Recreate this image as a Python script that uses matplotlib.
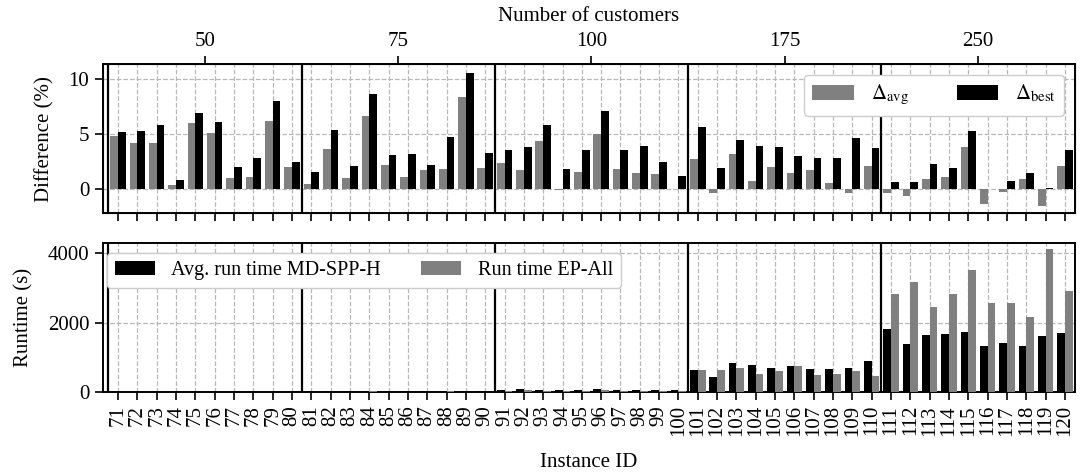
import matplotlib
matplotlib.use('Agg')
import matplotlib.pyplot as plt
import numpy as np

plt.rcParams['font.family'] = ['Liberation Serif', 'DejaVu Serif']
plt.rcParams['mathtext.fontset'] = 'stix'
plt.rcParams['font.size'] = 15

# Instance ids and group sizes
instances = list(range(71, 121))
group_labels = ['50', '75', '100', '175', '250']

# Difference (%) per instance
delta_avg = [4.85, 4.22, 4.22, 0.33, 6.02, 5.12, 1.05, 1.14, 6.20, 2.05,
             0.42, 3.67, 0.96, 6.66, 2.23, 1.08, 1.69, 1.87, 8.37, 1.96,
             2.41, 1.78, 4.40, -0.05, 1.51, 5.03, 1.87, 1.42, 1.33, -0.03,
             2.75, -0.36, 3.22, 0.75, 2.02, 1.48, 1.75, 0.57, -0.39, 2.14,
             -0.36, -0.63, 0.93, 1.11, 3.83, -1.39, -0.30, 0.93, -1.57, 2.11]
delta_best = [5.21, 5.30, 5.84, 0.78, 6.93, 6.11, 2.05, 2.86, 8.01, 2.50,
              1.51, 5.39, 2.14, 8.64, 3.13, 3.22, 2.23, 4.76, 10.63, 3.31,
              3.58, 3.86, 5.84, 1.87, 3.58, 7.11, 3.58, 3.95, 2.50, 1.23,
              5.66, 1.96, 4.49, 3.95, 3.86, 3.04, 2.86, 2.86, 4.67, 3.77,
              0.66, 0.66, 2.29, 1.96, 5.27, 0.03, 0.75, 1.48, 0.12, 3.59]

# Runtime (s) per instance
rt_mdspp = [3, 4, 3, 4, 3, 4, 3, 4, 3, 4,
            15, 18, 14, 16, 15, 17, 14, 16, 15, 17,
            65, 70, 60, 68, 62, 70, 64, 66, 60, 65,
            634, 430, 839, 781, 693, 751, 664, 664, 693, 898,
            1805, 1396, 1630, 1659, 1718, 1337, 1425, 1337, 1601, 1689]
rt_ep = [2, 2, 2, 2, 2, 2, 2, 2, 2, 2,
         10, 9, 10, 11, 10, 9, 10, 11, 10, 9,
         35, 40, 30, 38, 32, 40, 34, 36, 30, 35,
         634, 634, 693, 517, 605, 751, 488, 517, 605, 459,
         2830, 3182, 2450, 2830, 3504, 2567, 2567, 2157, 4119, 2918]

x = np.arange(len(instances))
w = 0.4

fig, (ax1, ax2) = plt.subplots(2, 1, figsize=(10.8, 4.75), dpi=100)
fig.subplots_adjust(left=0.095, right=0.995, top=0.865, bottom=0.175, hspace=0.2)

# Top panel: differences
ax1.bar(x - w/2, delta_avg, w, color='gray', label=r'$\Delta_{\mathrm{avg}}$', zorder=3)
ax1.bar(x + w/2, delta_best, w, color='black', label=r'$\Delta_{\mathrm{best}}$', zorder=3)
ax1.set_ylim(-2.2, 11.4)
ax1.set_yticks([0, 5, 10])
ax1.set_ylabel('Difference (%)', labelpad=10)
leg1 = ax1.legend(loc='upper right', ncol=2, fontsize=15, handlelength=2.0, columnspacing=2.3,
                  framealpha=1)
leg1.set_zorder(10)

# Bottom panel: runtimes
ax2.bar(x - w/2, rt_mdspp, w, color='black', label='Avg. run time MD-SPP-H', zorder=3)
ax2.bar(x + w/2, rt_ep, w, color='gray', label='Run time EP-All', zorder=3)
ax2.set_ylim(0, 4300)
ax2.set_yticks([0, 2000, 4000])
ax2.set_ylabel('Runtime (s)', labelpad=10)
ax2.set_xlabel('Instance ID', labelpad=12)
leg2 = ax2.legend(loc='upper left', ncol=2, fontsize=14.5, handlelength=2.0, columnspacing=2.0,
                  bbox_to_anchor=(-0.006, 1.0), framealpha=1)
leg2.set_zorder(10)

for ax in (ax1, ax2):
    ax.set_xlim(-0.8, len(instances) - 0.5)
    ax.set_xticks(x)
    ax.grid(True, linestyle='--', color='#b8b8b8', linewidth=0.9, zorder=0)
    for b in range(0, len(instances), 10):
        ax.axvline(b - 0.5, color='black', linewidth=1.6, zorder=4)
    for s in ax.spines.values():
        s.set_linewidth(1.4)
    ax.tick_params(axis='both', width=1.2, length=6)

ax1.set_xticklabels([])
ax2.set_xticklabels([str(i) for i in instances], rotation=90)

# Top axis with customer counts
top = ax1.twiny()
top.set_xlim(ax1.get_xlim())
top.set_xticks([4.5, 14.5, 24.5, 34.5, 44.5])
top.set_xticklabels(group_labels)
top.set_xlabel('Number of customers', labelpad=8)
top.tick_params(axis='x', width=1.2, length=6)

fig.savefig('out.png', dpi=100)
